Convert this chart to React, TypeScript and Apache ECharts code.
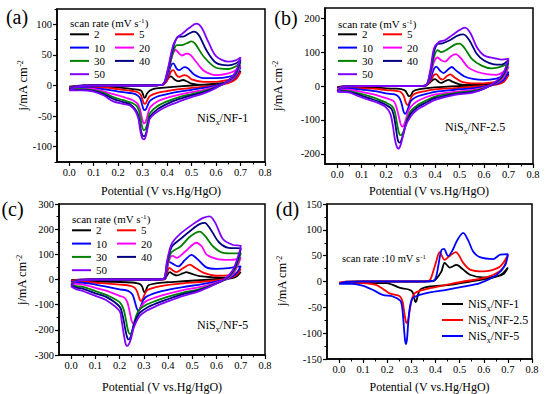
import { useEffect, useRef } from 'react';
import * as echarts from 'echarts';

const FONT = "'Liberation Serif', 'Times New Roman', serif";

// scan-rate series names and colours
const rates = ['2', '5', '10', '20', '30', '40', '50'];
const rateColors = ['#000000', '#ff0000', '#0000ff', '#ff00ff', '#008000', '#000080', '#8000ff'];

// tick values
const xMajor = [0, 0.1, 0.2, 0.3, 0.4, 0.5, 0.6, 0.7, 0.8];
const xMinor = [0.05, 0.15, 0.25, 0.35, 0.45, 0.55, 0.65, 0.75];
const aMajor = [-100, -50, 0, 50, 100];
const aMinor = [-125, -75, -25, 25, 75, 125];
const bMajor = [-200, -100, 0, 100, 200];
const bMinor = [-150, -50, 50, 150];
const cMajor = [-300, -200, -100, 0, 100, 200, 300];
const cMinor = [-250, -150, -50, 50, 150, 250];
const dMajor = [-150, -100, -50, 0, 50, 100, 150];
const dMinor = [-125, -75, -25, 25, 75, 125];

// (a) NiSx/NF-1  [V, j]
const a2 = [[0,-2],[0.03,-0.5],[0.1,0],[0.2,0],[0.3,0],[0.37,0.5],[0.39,3],[0.405,12],[0.415,15],[0.43,10],[0.445,7],[0.465,9],[0.48,7],[0.5,3],[0.55,1],[0.6,2],[0.65,6],[0.68,12],[0.7,24],[0.68,11],[0.65,5],[0.6,3],[0.5,0],[0.4,-3],[0.35,-5],[0.33,-8],[0.318,-13],[0.312,-19],[0.307,-20],[0.302,-15],[0.295,-9],[0.285,-7],[0.26,-6],[0.2,-3],[0.1,-2],[0,-2]];
const a5 = [[0,-3],[0.03,-1],[0.1,0],[0.2,0],[0.3,0],[0.38,1],[0.4,8],[0.415,22],[0.425,25],[0.44,16],[0.45,14],[0.47,17],[0.485,15],[0.5,10],[0.55,6],[0.6,6],[0.65,9],[0.68,13],[0.7,22],[0.68,10],[0.65,4],[0.6,0],[0.55,-2],[0.5,-4],[0.45,-6],[0.4,-9],[0.36,-12],[0.33,-17],[0.32,-23],[0.313,-29],[0.307,-30],[0.3,-24],[0.292,-15],[0.28,-11],[0.26,-9],[0.24,-8],[0.2,-6],[0.16,-4],[0.1,-3],[0,-3]];
const a10 = [[0,-4],[0.03,-1],[0.1,0],[0.2,0],[0.3,0],[0.38,1],[0.4,12],[0.415,32],[0.425,36],[0.44,27],[0.45,25],[0.47,30],[0.485,28],[0.51,18],[0.55,12],[0.6,12],[0.65,14],[0.68,19],[0.7,30],[0.68,14],[0.65,6],[0.6,0],[0.55,-4],[0.5,-7],[0.45,-10],[0.4,-14],[0.36,-18],[0.33,-25],[0.32,-33],[0.313,-39],[0.306,-40],[0.299,-33],[0.29,-21],[0.278,-16],[0.26,-13],[0.24,-12],[0.2,-10],[0.16,-7],[0.12,-5],[0.06,-4],[0,-4]];
const a20 = [[0,-5],[0.03,-1],[0.1,0],[0.2,0],[0.3,0],[0.38,1],[0.4,15],[0.42,48],[0.435,58],[0.45,52],[0.46,49],[0.48,52],[0.495,50],[0.52,38],[0.55,24],[0.6,17],[0.65,20],[0.68,25],[0.7,33],[0.68,16],[0.65,6],[0.6,-2],[0.55,-7],[0.5,-11],[0.45,-15],[0.4,-20],[0.36,-26],[0.33,-36],[0.32,-49],[0.312,-60],[0.305,-62],[0.298,-55],[0.29,-40],[0.28,-30],[0.26,-24],[0.23,-20],[0.2,-16],[0.16,-12],[0.12,-7],[0.08,-5],[0,-5]];
const a30 = [[0,-6],[0.03,-1.5],[0.1,0],[0.2,0],[0.3,0],[0.38,1],[0.4,18],[0.425,55],[0.44,66],[0.46,66],[0.48,69],[0.5,72],[0.515,68],[0.55,47],[0.6,29],[0.65,27],[0.68,31],[0.7,38],[0.68,18],[0.65,7],[0.6,-3],[0.55,-9],[0.5,-14],[0.45,-19],[0.4,-26],[0.36,-34],[0.33,-45],[0.321,-58],[0.313,-70],[0.305,-73],[0.297,-66],[0.29,-50],[0.28,-36],[0.26,-29],[0.22,-24],[0.18,-19],[0.14,-12],[0.1,-8],[0.05,-6],[0,-6]];
const a40 = [[0,-7],[0.03,-1.5],[0.1,0],[0.2,0],[0.3,0],[0.38,1],[0.4,20],[0.425,62],[0.445,80],[0.465,80],[0.49,85],[0.51,88],[0.53,82],[0.56,58],[0.6,37],[0.65,33],[0.68,36],[0.7,42],[0.68,20],[0.65,8],[0.6,-3],[0.55,-11],[0.5,-16],[0.45,-22],[0.4,-30],[0.36,-39],[0.33,-51],[0.322,-63],[0.314,-78],[0.306,-83],[0.298,-81],[0.29,-67],[0.283,-50],[0.272,-40],[0.25,-31],[0.22,-27],[0.18,-22],[0.14,-14],[0.1,-9],[0.05,-7],[0,-7]];
const a50 = [[0,-8],[0.03,-2],[0.1,0],[0.2,0],[0.3,0],[0.38,1],[0.4,22],[0.425,66],[0.445,80],[0.46,84],[0.49,94],[0.52,101],[0.54,95],[0.57,70],[0.6,48],[0.65,39],[0.68,41],[0.7,46],[0.68,22],[0.65,8],[0.6,-4],[0.55,-13],[0.5,-19],[0.45,-26],[0.4,-34],[0.36,-43],[0.33,-54],[0.322,-66],[0.314,-81],[0.306,-88],[0.298,-86],[0.29,-73],[0.283,-55],[0.272,-43],[0.25,-33],[0.22,-30],[0.18,-26],[0.14,-16],[0.1,-10],[0.05,-8],[0,-8]];

// (b) NiSx/NF-2.5
const b2 = [[0,-3],[0.03,-0.5],[0.1,0],[0.2,0],[0.3,0],[0.36,1],[0.375,8],[0.39,18],[0.4,20],[0.415,12],[0.425,9],[0.445,16],[0.455,18],[0.47,13],[0.5,5],[0.55,3],[0.6,5],[0.65,10],[0.68,20],[0.7,36],[0.68,15],[0.65,6],[0.6,3],[0.5,0],[0.4,-4],[0.35,-8],[0.32,-12],[0.31,-16],[0.303,-25],[0.297,-30],[0.292,-30],[0.286,-23],[0.278,-14],[0.265,-10],[0.24,-8],[0.2,-7],[0.15,-4],[0.1,-3],[0,-3]];
const b5 = [[0,-5],[0.03,-1],[0.1,0],[0.2,0],[0.3,0],[0.36,1],[0.38,14],[0.395,32],[0.405,35],[0.42,22],[0.43,19],[0.45,30],[0.462,34],[0.48,25],[0.51,12],[0.55,8],[0.6,8],[0.65,13],[0.68,20],[0.7,32],[0.68,12],[0.65,4],[0.6,0],[0.55,-3],[0.48,-6],[0.4,-10],[0.36,-15],[0.32,-22],[0.305,-30],[0.297,-44],[0.291,-54],[0.286,-56],[0.28,-48],[0.272,-30],[0.26,-18],[0.245,-15],[0.2,-12],[0.15,-8],[0.1,-6],[0.05,-5],[0,-5]];
const b10 = [[0,-7],[0.03,-1.5],[0.1,0],[0.2,0],[0.3,0],[0.36,1],[0.38,20],[0.395,50],[0.405,57],[0.42,45],[0.435,38],[0.455,50],[0.468,56],[0.485,46],[0.52,28],[0.56,20],[0.6,18],[0.65,22],[0.68,30],[0.7,42],[0.68,18],[0.65,6],[0.6,-2],[0.55,-7],[0.48,-11],[0.4,-17],[0.36,-24],[0.32,-33],[0.3,-45],[0.29,-65],[0.283,-78],[0.277,-82],[0.271,-75],[0.263,-52],[0.253,-34],[0.235,-25],[0.2,-22],[0.17,-17],[0.13,-13],[0.09,-10],[0.047,-8],[0,-7]];
const b20 = [[0,-10],[0.03,-2],[0.1,0],[0.2,0],[0.3,0],[0.36,1],[0.38,28],[0.395,70],[0.41,84],[0.425,76],[0.44,72],[0.465,88],[0.485,94],[0.505,82],[0.535,55],[0.57,42],[0.61,35],[0.65,33],[0.68,42],[0.7,57],[0.68,26],[0.65,8],[0.6,-5],[0.55,-12],[0.48,-17],[0.4,-25],[0.36,-34],[0.325,-46],[0.3,-62],[0.29,-75],[0.28,-100],[0.272,-116],[0.266,-120],[0.259,-112],[0.25,-85],[0.24,-58],[0.23,-44],[0.2,-36],[0.17,-29],[0.13,-22],[0.09,-16],[0.047,-11],[0,-10]];
const b30 = [[0,-13],[0.03,-3],[0.1,0],[0.2,0],[0.3,0],[0.36,1],[0.38,35],[0.395,85],[0.41,106],[0.425,100],[0.45,108],[0.48,122],[0.5,125],[0.52,112],[0.55,80],[0.59,60],[0.63,52],[0.66,55],[0.68,60],[0.7,67],[0.68,32],[0.65,10],[0.6,-6],[0.55,-15],[0.48,-21],[0.4,-31],[0.36,-44],[0.325,-58],[0.3,-74],[0.285,-100],[0.274,-128],[0.265,-142],[0.258,-145],[0.251,-135],[0.243,-105],[0.235,-75],[0.225,-60],[0.2,-49],[0.17,-40],[0.13,-30],[0.09,-22],[0.047,-15],[0,-13]];
const b40 = [[0,-15],[0.03,-3],[0.1,0],[0.2,0],[0.3,0],[0.36,1],[0.38,40],[0.395,100],[0.41,124],[0.43,126],[0.46,135],[0.49,148],[0.515,152],[0.54,135],[0.57,95],[0.6,75],[0.64,64],[0.67,63],[0.7,76],[0.68,36],[0.65,12],[0.6,-8],[0.55,-18],[0.48,-24],[0.4,-36],[0.36,-50],[0.325,-64],[0.3,-82],[0.282,-110],[0.27,-142],[0.261,-162],[0.254,-167],[0.247,-158],[0.24,-125],[0.232,-90],[0.222,-68],[0.2,-56],[0.17,-46],[0.13,-36],[0.09,-26],[0.047,-17],[0,-15]];
const b50 = [[0,-17],[0.03,-3],[0.1,0],[0.2,0],[0.3,0],[0.36,1],[0.38,45],[0.395,110],[0.415,130],[0.44,135],[0.47,150],[0.5,165],[0.522,172],[0.545,155],[0.57,115],[0.6,90],[0.64,82],[0.67,78],[0.7,81],[0.68,40],[0.65,14],[0.6,-8],[0.55,-20],[0.48,-26],[0.4,-41],[0.36,-56],[0.325,-71],[0.3,-90],[0.278,-120],[0.266,-155],[0.257,-178],[0.25,-185],[0.243,-178],[0.235,-155],[0.228,-120],[0.217,-82],[0.196,-61],[0.17,-51],[0.13,-41],[0.09,-31],[0.047,-19],[0,-17]];

// (c) NiSx/NF-5
const c2 = [[0,-3],[0.03,-0.5],[0.1,0],[0.2,0],[0.3,0],[0.385,1],[0.395,15],[0.407,29],[0.42,22],[0.435,16],[0.46,24],[0.476,29],[0.49,25],[0.53,13],[0.6,8],[0.65,7],[0.68,13],[0.7,30],[0.685,14],[0.668,6],[0.64,3],[0.6,1],[0.53,-3],[0.462,-7],[0.394,-11],[0.35,-15],[0.32,-22],[0.313,-32],[0.308,-46],[0.304,-52],[0.299,-45],[0.293,-28],[0.285,-19],[0.27,-14],[0.25,-12],[0.2,-10],[0.15,-9],[0.1,-7],[0.05,-5],[0,-3]];
const c5 = [[0,-7],[0.02,-2],[0.05,-0.5],[0.1,0],[0.2,0],[0.3,0],[0.385,1],[0.395,25],[0.405,46],[0.42,36],[0.434,29],[0.46,44],[0.49,59],[0.51,48],[0.545,27],[0.6,15],[0.65,16],[0.68,25],[0.7,42],[0.685,20],[0.668,10],[0.64,2],[0.6,-3],[0.53,-10],[0.462,-15],[0.394,-22],[0.35,-30],[0.315,-42],[0.305,-55],[0.298,-72],[0.292,-83],[0.287,-85],[0.281,-74],[0.274,-52],[0.264,-34],[0.245,-25],[0.2,-20],[0.15,-16],[0.1,-13],[0.05,-8],[0,-7]];
const c10 = [[0,-12],[0.02,-4],[0.05,-1],[0.1,0],[0.2,0],[0.3,0],[0.385,2],[0.395,40],[0.405,70],[0.42,62],[0.442,52],[0.47,78],[0.497,98],[0.52,82],[0.558,48],[0.6,42],[0.65,45],[0.68,50],[0.7,52],[0.685,28],[0.668,14],[0.64,0],[0.6,-8],[0.53,-20],[0.462,-30],[0.394,-42],[0.352,-52],[0.311,-68],[0.298,-82],[0.289,-103],[0.283,-118],[0.277,-124],[0.271,-115],[0.263,-88],[0.253,-60],[0.235,-45],[0.2,-39],[0.15,-29],[0.1,-20],[0.05,-13],[0,-12]];
const c20 = [[0,-16],[0.02,-5],[0.05,-1],[0.1,0],[0.2,0],[0.3,0],[0.38,2],[0.395,45],[0.41,90],[0.42,94],[0.435,86],[0.47,110],[0.517,146],[0.54,130],[0.558,100],[0.6,82],[0.65,78],[0.68,80],[0.7,88],[0.685,50],[0.668,22],[0.64,1],[0.6,-12],[0.53,-30],[0.462,-42],[0.394,-58],[0.352,-70],[0.311,-85],[0.29,-105],[0.28,-125],[0.271,-152],[0.264,-170],[0.257,-176],[0.25,-165],[0.242,-130],[0.232,-90],[0.22,-72],[0.2,-65],[0.15,-46],[0.1,-33],[0.05,-20],[0,-16]];
const c30 = [[0,-20],[0.02,-6],[0.05,-2],[0.1,0],[0.2,0],[0.3,0],[0.38,2],[0.395,55],[0.414,108],[0.45,130],[0.49,170],[0.531,190],[0.555,170],[0.586,131],[0.627,106],[0.67,104],[0.7,105],[0.685,60],[0.668,28],[0.64,3],[0.6,-15],[0.53,-38],[0.462,-52],[0.394,-70],[0.352,-84],[0.311,-100],[0.284,-118],[0.272,-136],[0.262,-165],[0.254,-197],[0.248,-213],[0.242,-216],[0.235,-203],[0.227,-165],[0.217,-120],[0.2,-90],[0.15,-63],[0.1,-46],[0.05,-29],[0.02,-26],[0,-20]];
const c40 = [[0,-24],[0.02,-7],[0.05,-2],[0.1,0],[0.2,0],[0.3,0],[0.38,2],[0.395,62],[0.414,128],[0.45,160],[0.5,200],[0.53,220],[0.551,225],[0.575,200],[0.61,148],[0.65,126],[0.7,124],[0.685,72],[0.668,34],[0.64,5],[0.6,-16],[0.53,-42],[0.462,-58],[0.394,-80],[0.352,-95],[0.311,-113],[0.284,-132],[0.27,-152],[0.258,-182],[0.25,-215],[0.243,-234],[0.237,-238],[0.23,-226],[0.222,-190],[0.213,-145],[0.2,-108],[0.15,-72],[0.1,-55],[0.05,-37],[0.02,-32],[0,-24]];
const c50 = [[0,-28],[0.02,-8],[0.05,-2],[0.1,0],[0.2,0],[0.3,0],[0.38,2],[0.395,70],[0.414,140],[0.449,180],[0.503,220],[0.545,245],[0.572,251],[0.595,225],[0.627,160],[0.668,137],[0.7,133],[0.685,80],[0.668,39],[0.64,7],[0.6,-16],[0.53,-46],[0.462,-65],[0.394,-89],[0.352,-105],[0.311,-124],[0.284,-144],[0.27,-165],[0.257,-196],[0.247,-235],[0.238,-258],[0.231,-264],[0.224,-252],[0.216,-210],[0.208,-160],[0.2,-125],[0.15,-85],[0.1,-65],[0.05,-46],[0.02,-38],[0,-28]];

// (d) comparison at 10 mV/s
const samples = ['NiSx/NF-1', 'NiSx/NF-2.5', 'NiSx/NF-5'];
const sampleColors = ['#000000', '#ff0000', '#0000ff'];
const d1 = [[0,-3],[0.03,-0.5],[0.1,0],[0.2,0],[0.3,0],[0.39,1],[0.403,5],[0.424,19],[0.438,36],[0.459,27],[0.487,32],[0.515,23],[0.543,13],[0.598,8],[0.654,10],[0.68,16],[0.7,27],[0.68,14],[0.626,6.5],[0.543,0],[0.459,-6.5],[0.376,-9.7],[0.341,-14],[0.332,-19],[0.326,-28],[0.321,-37],[0.317,-40],[0.313,-35],[0.308,-24],[0.3,-18],[0.285,-15],[0.25,-12],[0.223,-6.5],[0.195,-3],[0.1,-3],[0,-3]];
const d25 = [[0,-2],[0.03,-0.5],[0.1,0],[0.2,0],[0.3,0],[0.37,1],[0.38,5],[0.403,39],[0.417,57],[0.438,42],[0.46,50],[0.484,57],[0.515,36],[0.543,23],[0.598,19.5],[0.626,21],[0.668,29],[0.7,51],[0.68,26],[0.64,13],[0.584,5],[0.515,0],[0.445,-6.5],[0.376,-13],[0.334,-18],[0.313,-23],[0.305,-30],[0.298,-42],[0.291,-62],[0.286,-76],[0.281,-81],[0.276,-76],[0.27,-58],[0.264,-40],[0.256,-31],[0.245,-27],[0.209,-23],[0.181,-14],[0.153,-6.5],[0.097,-3],[0,-2]];
const d5 = [[0,-4.5],[0.03,-1],[0.1,0],[0.2,0],[0.3,0],[0.39,1],[0.403,10],[0.412,32],[0.424,60],[0.435,63],[0.452,49],[0.47,60],[0.49,80],[0.515,94],[0.535,80],[0.556,58],[0.584,47],[0.64,43.5],[0.668,52],[0.7,53],[0.689,32],[0.654,13],[0.584,-3],[0.515,-10],[0.445,-16],[0.376,-21],[0.334,-26],[0.306,-32],[0.298,-40],[0.291,-58],[0.286,-85],[0.282,-110],[0.278,-121],[0.274,-115],[0.27,-95],[0.265,-65],[0.26,-45],[0.254,-37],[0.223,-29],[0.181,-26],[0.139,-16],[0.097,-8],[0.056,-4.5],[0,-4.5]];

const panelRates = [
  [a2, a5, a10, a20, a30, a40, a50],
  [b2, b5, b10, b20, b30, b40, b50],
  [c2, c5, c10, c20, c30, c40, c50],
];
const panelSamples = [d1, d25, d5];

const grids = [
  { left: 57, top: 9, width: 208, height: 153 },
  { left: 325, top: 8, width: 208, height: 156 },
  { left: 59, top: 204, width: 206, height: 153 },
  { left: 327, top: 204, width: 205, height: 155 },
];
const yRanges = [[-125, 125], [-230, 230], [-300, 300], [-150, 150]];
const yTicks = [[aMajor, aMinor], [bMajor, bMinor], [cMajor, cMinor], [dMajor, dMinor]];
const xNameGaps = [23, 21, 26, 22];
const yNamePos = [[22.5, 85.5], [278, 86], [22, 280], [282, 281]];

function buildOption() {
  const xAxis: any[] = [];
  const yAxis: any[] = [];
  grids.forEach((g, i) => {
    xAxis.push({
      type: 'value', gridIndex: i, min: -0.05, max: 0.8, position: 'bottom',
      name: 'Potential (V vs.Hg/HgO)', nameLocation: 'middle', nameGap: xNameGaps[i],
      nameTextStyle: { fontFamily: FONT, fontSize: 12, color: '#000' },
      axisLine: { show: true, onZero: false, lineStyle: { color: '#000', width: 1.5 } },
      axisTick: { show: true, inside: false, length: 4, customValues: xMajor, lineStyle: { color: '#000', width: 1.2 } },
      axisLabel: { show: true, customValues: xMajor, margin: 5, formatter: (v: number) => v.toFixed(1), fontFamily: FONT, fontSize: 10.5, color: '#000' },
      splitLine: { show: false },
    });
    xAxis.push({
      type: 'value', gridIndex: i, min: -0.05, max: 0.8, position: 'bottom',
      axisLine: { show: false, onZero: false },
      axisTick: { show: true, inside: false, length: 2.5, customValues: xMinor, lineStyle: { color: '#000', width: 1 } },
      axisLabel: { show: false },
      splitLine: { show: false },
    });
    yAxis.push({
      type: 'value', gridIndex: i, min: yRanges[i][0], max: yRanges[i][1], position: 'left',
      axisLine: { show: true, onZero: false, lineStyle: { color: '#000', width: 1.5 } },
      axisTick: { show: true, inside: false, length: 4, customValues: yTicks[i][0], lineStyle: { color: '#000', width: 1.2 } },
      axisLabel: { show: true, customValues: yTicks[i][0], margin: 5, fontFamily: FONT, fontSize: 10.5, color: '#000' },
      splitLine: { show: false },
    });
    yAxis.push({
      type: 'value', gridIndex: i, min: yRanges[i][0], max: yRanges[i][1], position: 'left',
      axisLine: { show: false, onZero: false },
      axisTick: { show: true, inside: false, length: 2.5, customValues: yTicks[i][1], lineStyle: { color: '#000', width: 1 } },
      axisLabel: { show: false },
      splitLine: { show: false },
    });
  });

  const series: any[] = [];
  panelRates.forEach((curves, p) => {
    curves.forEach((data, k) => {
      series.push({
        type: 'line', name: rates[k], xAxisIndex: 2 * p, yAxisIndex: 2 * p,
        data, showSymbol: false, smooth: 0.3, silent: true,
        lineStyle: { width: 1.8, color: rateColors[k] }, itemStyle: { color: rateColors[k] },
      });
    });
  });
  panelSamples.forEach((data, k) => {
    series.push({
      type: 'line', name: samples[k], xAxisIndex: 6, yAxisIndex: 6,
      data, showSymbol: false, smooth: 0.3, silent: true,
      lineStyle: { width: 1.8, color: sampleColors[k] }, itemStyle: { color: sampleColors[k] },
    });
  });

  const rateLegend = (left: number, top: number, names: string[]) => ({
    orient: 'vertical', left, top, padding: 0, itemGap: 2.3, itemWidth: 19, itemHeight: 2,
    icon: 'rect', selectedMode: false, data: names,
    textStyle: { fontFamily: FONT, fontSize: 11, color: '#000', lineHeight: 11 },
  });
  const col1 = ['2', '10', '30', '50'];
  const col2 = ['5', '20', '40'];
  const legend: any[] = [
    rateLegend(70, 28.8, col1), rateLegend(115, 28.8, col2),
    rateLegend(338, 28.8, col1), rateLegend(383, 28.8, col2),
    rateLegend(72, 224.8, col1), rateLegend(117, 224.8, col2),
    {
      orient: 'vertical', left: 442, top: 296, padding: 0, itemGap: 0, itemWidth: 21, itemHeight: 2,
      icon: 'rect', selectedMode: false, data: samples,
      formatter: (name: string) => `{n|NiS}{s|x}{n|${name.slice(4)}}`,
      textStyle: {
        fontFamily: FONT, fontSize: 12, color: '#000', lineHeight: 16,
        rich: {
          n: { fontFamily: FONT, fontSize: 12, color: '#000', lineHeight: 16 },
          s: { fontFamily: FONT, fontSize: 8, color: '#000', lineHeight: 8, verticalAlign: 'bottom' },
        },
      },
    },
  ];

  const txt = (x: number, y: number, text: string, size: number, align = 'left', rich?: any, rotation = 0) => ({
    type: 'text', x, y, rotation, silent: true,
    style: {
      text, fill: '#000', font: `${size}px ${FONT}`, fontFamily: FONT, fontSize: size,
      align, verticalAlign: 'middle', textAlign: align, textVerticalAlign: 'middle', rich,
    },
  });
  const supRich = (size: number) => ({
    n: { fontFamily: FONT, fontSize: size, fill: '#000', lineHeight: size },
    s: { fontFamily: FONT, fontSize: size * 0.65, fill: '#000', lineHeight: size * 0.55, verticalAlign: 'top' },
  });
  const subRich = (size: number) => ({
    n: { fontFamily: FONT, fontSize: size, fill: '#000', lineHeight: size + 4 },
    s: { fontFamily: FONT, fontSize: size * 0.65, fill: '#000', lineHeight: size * 0.65, verticalAlign: 'bottom' },
  });

  const graphic: any[] = [
    txt(17, 16.5, '(a)', 20, 'center'),
    txt(286, 18, '(b)', 20, 'center'),
    txt(12.5, 208.5, '(c)', 20, 'center'),
    txt(287.5, 208.5, '(d)', 20, 'center'),
    ...yNamePos.map(([x, y]) => txt(x, y, '{n|j/mA cm}{s|-2}', 12.5, 'center', supRich(12.5), Math.PI / 2)),
    txt(70, 22.5, '{n|scan rate (mV s}{s|-1}{n|)}', 11, 'left', supRich(11)),
    txt(338, 23.5, '{n|scan rate (mV s}{s|-1}{n|)}', 11, 'left', supRich(11)),
    txt(72, 218.5, '{n|scan rate (mV s}{s|-1}{n|)}', 11, 'left', supRich(11)),
    txt(342, 258, '{n|scan rate :10 mV s}{s|-1}', 10.5, 'left', supRich(10.5)),
    txt(197, 118, '{n|NiS}{s|x}{n|/NF-1}', 12, 'left', subRich(12)),
    txt(445, 127, '{n|NiS}{s|x}{n|/NF-2.5}', 12, 'left', subRich(12)),
    txt(197, 325, '{n|NiS}{s|x}{n|/NF-5}', 12, 'left', subRich(12)),
  ];

  return {
    animation: false,
    backgroundColor: '#ffffff',
    textStyle: { fontFamily: FONT },
    grid: grids.map((g) => ({ ...g, show: true, borderColor: '#000', borderWidth: 1.5, backgroundColor: 'transparent', containLabel: false })),
    xAxis, yAxis, series, legend, graphic,
  };
}

export default function App() {
  const ref = useRef<HTMLDivElement>(null);
  useEffect(() => {
    document.body.style.margin = '0';
    const chart = echarts.init(ref.current as HTMLDivElement, null, { renderer: 'svg' });
    chart.setOption(buildOption() as any);
    return () => chart.dispose();
  }, []);
  return <div ref={ref} style={{ width: 550, height: 394, position: 'fixed', left: 0, top: 0, background: '#fff' }} />;
}
